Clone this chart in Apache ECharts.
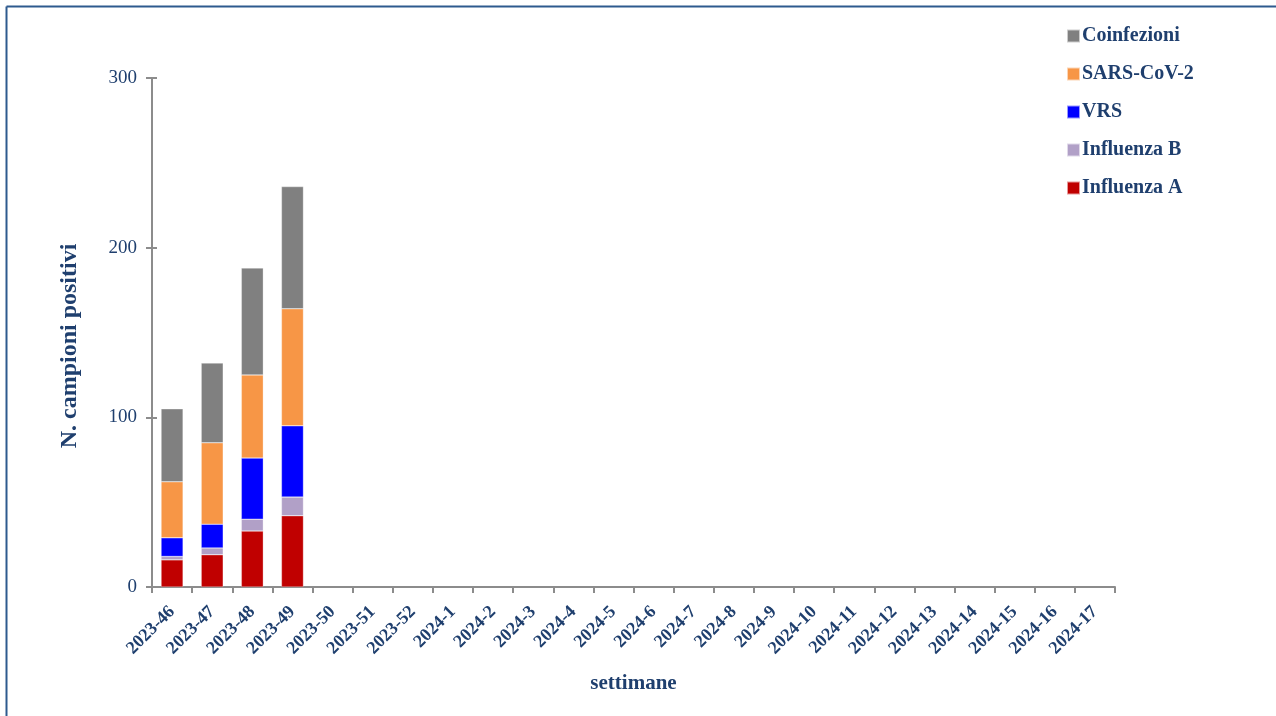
<!DOCTYPE html>
<html>
<head>
<meta charset="utf-8">
<script src="https://cdn.jsdelivr.net/npm/echarts@6/dist/echarts.min.js"></script>
<style>html,body{margin:0;padding:0;background:#fff;}#c{width:1276px;height:716px;}</style>
</head>
<body>
<div id="c"></div>
<script>
const categories = ['2023-46','2023-47','2023-48','2023-49','2023-50','2023-51','2023-52','2024-1','2024-2','2024-3','2024-4','2024-5','2024-6','2024-7','2024-8','2024-9','2024-10','2024-11','2024-12','2024-13','2024-14','2024-15','2024-16','2024-17'];
const influenzaA = [16, 19, 33, 42];
const influenzaB = [2, 4, 7, 11];
const vrs = [11, 14, 36, 42];
const sarsCov2 = [33, 48, 49, 69];
const coinfezioni = [43, 47, 63, 72];
const yTicks = [0, 100, 200, 300];

const textColor = '#1F3F6E';
const serif = '"Liberation Serif", "DejaVu Serif", serif';

function mk(name, data, color) {
  return {
    name: name, type: 'bar', stack: 'tot', data: data, barWidth: 22,
    itemStyle: { color: color, borderColor: 'rgba(255,255,255,0.6)', borderWidth: 0.5 }
  };
}

const chart = echarts.init(document.getElementById('c'), null, { renderer: 'canvas' });
chart.setOption({
  animation: false,
  backgroundColor: '#fff',
  grid: { left: 152, right: 161, top: 78, bottom: 129, containLabel: false },
  legend: {
    orient: 'vertical', left: 1061, top: 20,
    itemWidth: 13, itemHeight: 13, itemGap: 16,
    icon: 'rect',
    data: ['Coinfezioni', 'SARS-CoV-2', 'VRS', 'Influenza B', 'Influenza A'],
    textStyle: { color: textColor, fontFamily: serif, fontWeight: 'bold', fontSize: 20, lineHeight: 22, padding: [0, 0, 0, -3] }
  },
  xAxis: {
    type: 'category', data: categories,
    name: 'settimane', nameLocation: 'middle', nameGap: 86,
    nameTextStyle: { color: textColor, fontFamily: serif, fontWeight: 'bold', fontSize: 21 },
    axisLine: { lineStyle: { color: '#8C8C8C', width: 2 } },
    axisTick: { show: true, length: 6, lineStyle: { color: '#8C8C8C', width: 2 } },
    axisLabel: { interval: 0, rotate: 45, margin: 22, color: textColor, fontFamily: serif, fontWeight: 'bold', fontSize: 18 }
  },
  yAxis: [{
    type: 'value', min: yTicks[0], max: yTicks[yTicks.length - 1], interval: 100,
    axisLine: { show: true, lineStyle: { color: '#8C8C8C', width: 2 } },
    axisTick: { show: true, length: 6, lineStyle: { color: '#8C8C8C', width: 2 } },
    splitLine: { show: false },
    axisLabel: { margin: 15, color: textColor, fontFamily: serif, fontSize: 19 }
  }, {
    type: 'value', position: 'left', min: yTicks[0], max: yTicks[yTicks.length - 1], interval: 100,
    axisLine: { show: false },
    axisTick: { show: true, inside: true, length: 5, lineStyle: { color: '#8C8C8C', width: 2 } },
    axisLabel: { show: false }, splitLine: { show: false }
  }],
  graphic: [
    { type: 'line', shape: { x1: 6.5, y1: 6.5, x2: 1276, y2: 6.5 }, style: { stroke: '#2E5A8E', lineWidth: 2 } },
    { type: 'line', shape: { x1: 6.5, y1: 6.5, x2: 6.5, y2: 716 }, style: { stroke: '#2E5A8E', lineWidth: 2 } },
    { type: 'text', x: 70, y: 346, rotation: Math.PI / 2,
      style: { text: 'N. campioni positivi', fill: textColor, font: 'bold 24px ' + serif, align: 'center', verticalAlign: 'middle' } }
  ],
  series: [
    mk('Influenza A', influenzaA, '#C00000'),
    mk('Influenza B', influenzaB, '#B1A0C7'),
    mk('VRS', vrs, '#0000FF'),
    mk('SARS-CoV-2', sarsCov2, '#F79646'),
    mk('Coinfezioni', coinfezioni, '#808080')
  ]
});
</script>
</body>
</html>
